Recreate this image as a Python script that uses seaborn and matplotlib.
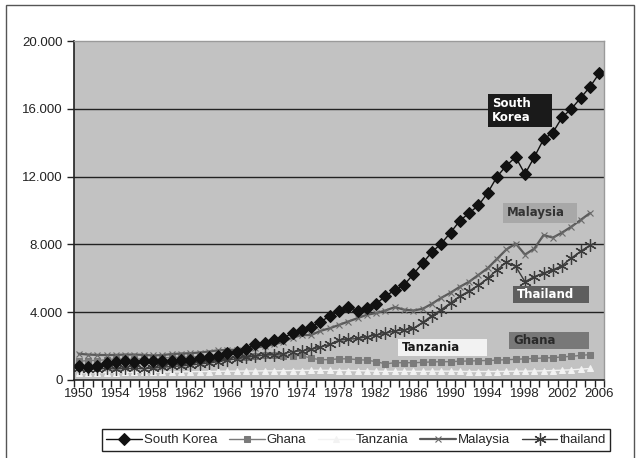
import numpy as np
import pandas as pd
import matplotlib
matplotlib.use("Agg")
import matplotlib.pyplot as plt
from matplotlib.patches import Rectangle
from matplotlib.ticker import FuncFormatter, FixedLocator
import seaborn as sns

# GDP per capita, 1950-2006
years = list(range(1950, 2007))

south_korea = [850, 780, 800, 1000, 1050, 1100, 1050, 1100, 1150, 1150,
               1150, 1180, 1200, 1300, 1380, 1430, 1570, 1650, 1850, 2100,
               2200, 2350, 2450, 2800, 2950, 3100, 3450, 3750, 4050, 4300,
               4100, 4250, 4500, 4950, 5300, 5600, 6250, 6900, 7550, 8050,
               8700, 9400, 9850, 10300, 11050, 12000, 12650, 13150, 12150, 13150,
               14200, 14600, 15500, 16000, 16650, 17300, 18100]

ghana = [1100, 1150, 1150, 1200, 1250, 1230, 1230, 1250, 1220, 1300,
         1330, 1340, 1360, 1380, 1380, 1370, 1340, 1350, 1370, 1400,
         1450, 1480, 1400, 1420, 1450, 1280, 1200, 1200, 1250, 1250,
         1200, 1170, 1080, 950, 1020, 1020, 1020, 1040, 1070, 1080,
         1080, 1110, 1120, 1140, 1150, 1170, 1200, 1220, 1250, 1270,
         1300, 1320, 1360, 1400, 1450, 1500, np.nan]

tanzania = [420, 430, 430, 440, 440, 450, 450, 460, 460, 470,
            480, 480, 490, 500, 500, 510, 520, 520, 530, 530,
            540, 540, 550, 560, 560, 570, 570, 570, 560, 560,
            550, 540, 520, 510, 510, 510, 510, 510, 520, 520,
            520, 510, 500, 500, 500, 500, 510, 520, 520, 530,
            540, 560, 580, 600, 640, 680, np.nan]

malaysia = [1550, 1500, 1480, 1470, 1480, 1500, 1500, 1480, 1450, 1470,
            1530, 1560, 1580, 1620, 1680, 1750, 1780, 1780, 1850, 1900,
            2000, 2100, 2250, 2500, 2650, 2650, 2900, 3050, 3250, 3450,
            3650, 3850, 3950, 4100, 4300, 4150, 4100, 4200, 4500, 4850,
            5150, 5500, 5800, 6200, 6600, 7150, 7700, 8050, 7400, 7750,
            8550, 8400, 8700, 9050, 9450, 9850, np.nan]

thailand = [700, 650, 650, 680, 650, 680, 680, 670, 700, 750,
            800, 830, 880, 950, 1000, 1080, 1180, 1250, 1330, 1420,
            1480, 1500, 1550, 1680, 1720, 1800, 1950, 2100, 2350, 2400,
            2450, 2550, 2650, 2750, 2900, 2950, 3050, 3400, 3800, 4150,
            4550, 4950, 5250, 5600, 6000, 6500, 6950, 6700, 5800, 6100,
            6300, 6500, 6750, 7200, 7600, 7950, np.nan]

df = pd.DataFrame({'year': years, 'South Korea': south_korea, 'Ghana': ghana,
                   'Tanzania': tanzania, 'Malaysia': malaysia, 'thailand': thailand})

sns.set_style("white")
plt.rcParams['font.family'] = ['Liberation Sans', 'DejaVu Sans']

W, H = 639, 458
fig = plt.figure(figsize=(W / 100, H / 100), dpi=100)
ax = fig.add_axes([74 / W, 1 - 380 / H, 530 / W, 339 / H])
ax.set_facecolor('#c2c2c2')

# line styles per series
styles = {
    'Tanzania': dict(color='#f2f2f2', marker='^', markersize=5, linewidth=1.0,
                     markeredgecolor='#f2f2f2'),
    'Ghana': dict(color='#7a7a7a', marker='s', markersize=4.5, linewidth=1.0,
                  markeredgecolor='#7a7a7a'),
    'thailand': dict(color='#3c3c3c', marker=(6, 2, 0), markersize=9, linewidth=1.0,
                     markeredgewidth=0.9, markeredgecolor='#3c3c3c'),
    'Malaysia': dict(color='#5a5a5a', marker='x', markersize=4.5, linewidth=1.6,
                     markeredgewidth=0.8, markeredgecolor='#6a6a6a'),
    'South Korea': dict(color='#111111', marker='D', markersize=6, linewidth=1.0,
                        markeredgecolor='#111111'),
}
for name in ['Tanzania', 'Ghana', 'thailand', 'Malaysia', 'South Korea']:
    sns.lineplot(data=df, x='year', y=name, ax=ax, label=name, **styles[name])

ax.set_xlim(1949.5, 2006.5)
ax.set_ylim(0, 20000)
ax.set_xlabel('')
ax.set_ylabel('')

for v in [4000, 8000, 12000, 16000]:
    ax.axhline(v, color='#222222', linewidth=1.0, zorder=1)

ax.set_yticks([0, 4000, 8000, 12000, 16000, 20000])
ax.yaxis.set_major_formatter(FuncFormatter(lambda v, p: '0' if v == 0 else f'{int(v):,}'.replace(',', '.')))
ax.set_xticks(list(range(1950, 2007, 4)))
ax.xaxis.set_minor_locator(FixedLocator(np.arange(1949.5, 2007, 1)))
ax.tick_params(axis='x', which='major', length=0, labelsize=9.5, pad=6, colors='#222222')
ax.tick_params(axis='x', which='minor', length=5, width=1.0, color='#222222', direction='out', bottom=True)
ax.tick_params(axis='y', which='major', length=5, width=1.0, color='#222222', direction='out',
               left=True, labelsize=9.5, pad=3, labelcolor='#222222')

for side in ['top', 'right']:
    ax.spines[side].set_color('#9a9a9a')
    ax.spines[side].set_linewidth(1.0)
for side in ['left', 'bottom']:
    ax.spines[side].set_color('#222222')
    ax.spines[side].set_linewidth(1.2)

# legend
handles, labels = ax.get_legend_handles_labels()
order = ['South Korea', 'Ghana', 'Tanzania', 'Malaysia', 'thailand']
hmap = dict(zip(labels, handles))
ax.legend([hmap[k] for k in order], order, ncol=5, loc='center',
          bbox_to_anchor=(356 / W, 1 - 440 / H), bbox_transform=fig.transFigure,
          frameon=True, fancybox=False, edgecolor='#222222', fontsize=9.5,
          handlelength=2.7, handletextpad=0.15, columnspacing=0.9,
          borderpad=0.35, framealpha=1)
ax.get_legend().get_frame().set_linewidth(1.0)

# labels in boxes next to the lines
boxes = [
    ('South\nKorea', 488, 94, 64, 33, '#1a1a1a', 'white'),
    ('Malaysia', 503, 203, 74, 20, '#a8a8a8', '#333333'),
    ('Thailand', 513, 286, 76, 17, '#5e5e5e', 'white'),
    ('Ghana', 509, 332, 80, 17, '#787878', '#2a2a2a'),
    ('Tanzania', 398, 339, 89, 17, '#f2f2f2', '#1a1a1a'),
]
for txt, x0, y0, w, h, fc, tc in boxes:
    fig.patches.append(Rectangle((x0 / W, 1 - (y0 + h) / H), w / W, h / H,
                                 transform=fig.transFigure, facecolor=fc,
                                 edgecolor='none', zorder=5))
    fig.text((x0 + 4) / W, 1 - (y0 + h / 2) / H, txt, color=tc, fontsize=8.5,
             fontweight='bold', family='DejaVu Sans', va='center', ha='left',
             linespacing=1.15, zorder=6)

# outer frame
fig.patches.append(Rectangle((5.5 / W, -0.05), 628.5 / W, 1.05 - 5.5 / H,
                             transform=fig.transFigure, facecolor='none',
                             edgecolor='#555555', linewidth=1.0))

fig.savefig('out.png', dpi=100)
